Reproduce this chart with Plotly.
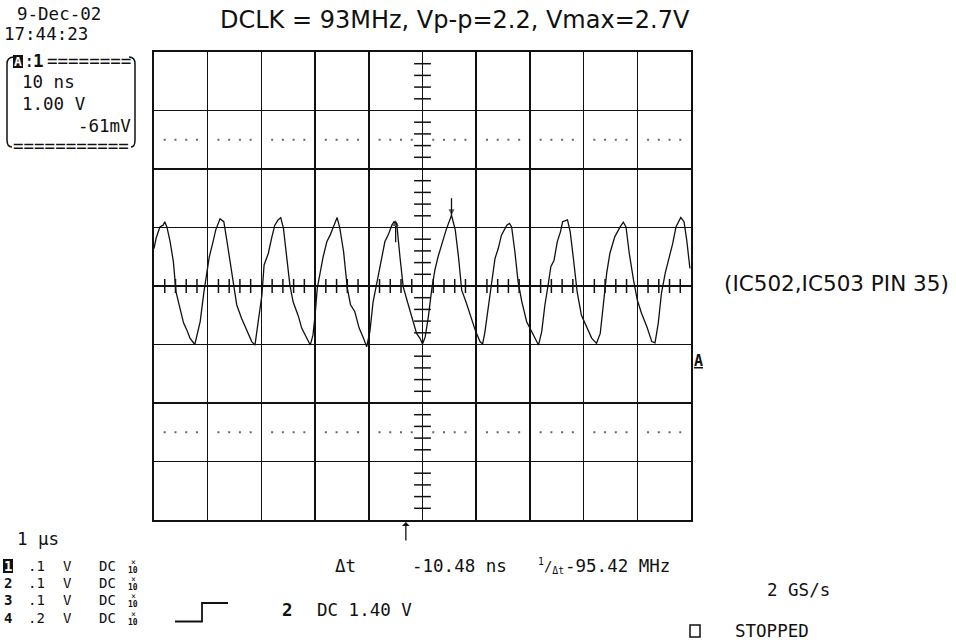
import plotly.graph_objects as go

# ---------------- data (read from the screen capture) ----------------
# time in ns (10 ns/div, centre = 0), voltage in V (1 V/div)
t_ns = [-50.0, -49.6, -48.9, -48.3, -48.0, -47.6, -47.0, -46.4, -45.9, -45.2,
        -44.5, -43.9, -43.3, -42.4, -41.4, -40.7, -40.2, -39.7, -39.0, -38.5,
        -37.7, -37.0, -36.4, -35.5, -34.6, -33.7, -32.6, -31.8, -31.2, -30.6,
        -29.9, -29.5, -28.7, -28.1, -27.5, -26.9, -26.4, -25.9, -25.3, -24.7,
        -24.1, -23.1, -22.5, -21.6, -20.9, -20.4, -20.0, -19.6, -19.1, -18.5,
        -17.8, -17.2, -16.6, -15.9, -15.4, -14.7, -14.0, -13.4, -12.6, -11.8,
        -11.0, -10.4, -9.8, -9.2, -8.4, -7.9, -7.0, -6.4, -5.7, -5.3,
        -4.8, -4.2, -3.6, -2.9, -2.0, -1.1, -0.5, 0.0, 0.5, 1.1,
        1.7, 2.3, 2.9, 3.6, 4.4, 5.4, 6.1, 6.7, 7.3, 8.2,
        8.8, 9.8, 10.7, 11.2, 11.6, 12.3, 12.9, 13.5, 14.1, 14.7,
        15.7, 16.2, 16.6, 17.2, 17.8, 18.5, 19.4, 20.3, 20.9, 21.6,
        22.2, 22.8, 23.4, 23.9, 24.5, 25.1, 25.7, 26.1, 27.0, 27.5,
        28.1, 28.8, 29.6, 30.4, 31.5, 32.4, 33.1, 33.7, 34.3, 34.9,
        35.8, 36.8, 37.4, 37.9, 38.5, 39.3, 40.0, 40.8, 41.8, 42.7,
        43.3, 43.9, 44.5, 45.2, 45.8, 46.6, 47.2, 48.1, 48.7, 49.2, 49.8]
v_volts = [0.64, 0.82, 1.01, 1.04, 1.10, 1.01, 0.76, 0.42, -0.10, -0.38,
           -0.63, -0.75, -0.89, -1.00, -0.61, -0.10, 0.24, 0.50, 0.76, 0.96,
           1.15, 1.10, 0.76, 0.24, -0.32, -0.55, -0.78, -0.95, -1.01, -0.61,
           -0.15, 0.36, 0.56, 0.82, 1.04, 1.13, 1.17, 0.99, 0.53, 0.02,
           -0.27, -0.52, -0.72, -0.89, -1.01, -0.84, -0.50, -0.04, 0.24, 0.50,
           0.76, 0.87, 1.01, 1.17, 0.99, 0.59, -0.04, -0.32, -0.44, -0.72,
           -0.89, -1.04, -0.78, -0.27, 0.10, 0.36, 0.76, 0.87, 1.04, 1.10,
           1.07, 0.50, -0.01, -0.24, -0.52, -0.81, -0.89, -0.99, -0.87, -0.52,
           -0.07, 0.27, 0.50, 0.73, 0.96, 1.21, 0.96, 0.50, -0.07, -0.30,
           -0.47, -0.75, -0.95, -0.99, -0.80, -0.32, 0.07, 0.47, 0.64, 0.87,
           1.04, 1.07, 1.01, 0.59, 0.07, -0.27, -0.61, -0.78, -0.89, -1.01,
           -0.78, -0.32, 0.02, 0.33, 0.44, 0.76, 0.93, 1.10, 1.13, 0.93,
           0.47, -0.10, -0.50, -0.67, -0.89, -0.98, -0.81, -0.30, 0.22, 0.56,
           0.84, 1.01, 1.09, 1.01, 0.56, 0.10, -0.24, -0.47, -0.70, -0.95,
           -0.97, -0.64, -0.12, 0.22, 0.44, 0.73, 1.01, 1.17, 1.10, 0.79, 0.30]

# cursors: (time, head voltage, tail voltage)
cursor1 = (-5.0, 1.13, 0.75)
cursor2 = (5.4, 1.21, 1.50)
# trigger point time (arrow under the graticule)
trigger_t = -3.1

# text
title_text = "DCLK = 93MHz, Vp-p=2.2, Vmax=2.7V"
note_text = "(IC502,IC503 PIN 35)"
date_text = "9-Dec-02"
time_text = "17:44:23"
timebase_text = "10 ns"
vscale_text = "1.00 V"
offset_text = "-61mV"
horiz_text = "1 μs"
ch_numbers = ["1", "2", "3", "4"]
ch_scales = [".1", ".1", ".1", ".2"]
dt_label = "Δt"
dt_value = "-10.48 ns"
freq_value = "-95.42 MHz"
trig_text = "DC 1.40 V"
rate_text = "2 GS/s"
state_text = "STOPPED"

# ---------------- layout helpers ----------------
W, H = 956, 644
PL, PR, PT, PB = 154, 691, 52, 520


def fx(x):
    return (x - PL) / (PR - PL)


def fy(y):
    return (PB - y) / (PB - PT)


MONO = "DejaVu Sans Mono"
SANS = "DejaVu Sans"
INK = "#111111"

fig = go.Figure()

# graticule: centre ticks and dotted rows
minor_t = [i * 2 for i in range(-25, 26) if i % 5 != 0]
minor_v = [i * 0.2 for i in range(-20, 21) if i % 5 != 0]
fig.add_trace(go.Scatter(x=minor_t, y=[0] * len(minor_t), mode="markers",
                         marker=dict(symbol="line-ns", size=10,
                                     line=dict(width=1.5, color=INK)),
                         hoverinfo="skip", showlegend=False))
fig.add_trace(go.Scatter(x=[0] * len(minor_v), y=minor_v, mode="markers",
                         marker=dict(symbol="line-ew", size=12,
                                     line=dict(width=1.5, color=INK)),
                         hoverinfo="skip", showlegend=False))
for lvl in (2.5, -2.5):
    fig.add_trace(go.Scatter(x=minor_t, y=[lvl] * len(minor_t), mode="markers",
                             marker=dict(symbol="square", size=2, color="#666666"),
                             hoverinfo="skip", showlegend=False))

# waveform
fig.add_trace(go.Scatter(x=t_ns, y=v_volts, mode="lines",
                         line=dict(color=INK, width=1.3),
                         hoverinfo="skip", showlegend=False))

# cursors (line + arrow head at the head point)
for (tc, vh, vt), sym in ((cursor1, "arrow-up"), (cursor2, "arrow-down")):
    fig.add_trace(go.Scatter(x=[tc, tc], y=[vt, vh], mode="lines+markers",
                             line=dict(color=INK, width=1.3),
                             marker=dict(symbol=["circle", sym], size=[0, 6],
                                         color=INK, line=dict(width=0)),
                             cliponaxis=False, hoverinfo="skip",
                             showlegend=False))

ann = []
shapes = []

# trigger arrow under the graticule
ann.append(dict(x=trigger_t, y=fy(522), xref="x", yref="paper", ax=0, ay=20,
                showarrow=True, arrowhead=1, arrowsize=1, arrowwidth=1.3,
                arrowcolor=INK, text=""))


def txt(s, x, y, size=17.5, anchor="left", font=MONO, color=INK, bold=False):
    ann.append(dict(text=("<b>%s</b>" % s) if bold else s,
                    x=fx(x), y=fy(y), xref="paper", yref="paper",
                    xanchor=anchor, yanchor="middle", showarrow=False,
                    font=dict(family=font, size=size, color=color)))


def rect(x0, y0, x1, y1, fill=INK, line=0):
    shapes.append(dict(type="rect", xref="paper", yref="paper",
                       x0=fx(x0), x1=fx(x1), y0=fy(y0), y1=fy(y1),
                       fillcolor=fill, line=dict(width=line, color=INK)))


def path(points, width=1.5):
    d = ""
    for cmd, pts in points:
        d += cmd + " " + " ".join("%.5f,%.5f" % (fx(a), fy(b)) for a, b in pts) + " "
    shapes.append(dict(type="path", xref="paper", yref="paper", path=d.strip(),
                       line=dict(color=INK, width=width)))


# title and note
txt(title_text, 218, 20, size=24, font=SANS)
txt(note_text, 722, 283, size=21.5, font=SANS)

# upper-left block
txt(date_text, 15, 14)
txt(time_text, 2, 34)
rect(13, 55, 23, 68)
txt("A", 18, 61.5, size=13, anchor="center", color="white", bold=True)
txt(":", 22, 61)
txt("1", 31, 61, bold=True)
txt("========", 45, 61)
txt(timebase_text, 20, 82)
txt(vscale_text, 20, 104)
txt(offset_text, 133, 126, anchor="right")
txt("===========", 11, 146)
path([("M", [(14, 57)]), ("Q", [(7, 57), (7, 64)]), ("L", [(7, 140)]),
      ("Q", [(7, 147), (12, 147)])])
path([("M", [(129, 57)]), ("Q", [(135, 57), (135, 64)]), ("L", [(135, 140)]),
      ("Q", [(135, 147), (131, 147)])])

# channel reference marker
ann.append(dict(text="<b><u>A</u></b>", x=fx(692), y=fy(361), xref="paper",
                yref="paper", xanchor="left", yanchor="middle", showarrow=False,
                font=dict(family=MONO, size=15, color=INK)))

# bottom block
txt(horiz_text, 15, 539)
rows_y = [566, 583, 600, 618]
ROW = 14
for i, (n, s) in enumerate(zip(ch_numbers, ch_scales)):
    y = rows_y[i]
    if i == 0:
        rect(3, y - 7, 13, y + 7)
        txt(n, 8, y, size=ROW, anchor="center", color="white", bold=True)
    else:
        txt(n, 8, y, size=ROW, anchor="center", bold=True)
    txt(s, 26, y, size=ROW)
    txt("V", 67.5, y, size=ROW, anchor="center")
    txt("DC", 107.5, y, size=ROW, anchor="center")
    txt("×", 133, y - 4, size=8, anchor="center")
    txt("10", 133, y + 4, size=8, anchor="center", bold=True)

# trigger step symbol
path([("M", [(175, 621.5)]), ("L", [(202, 621.5)]), ("L", [(202, 603)]),
      ("L", [(228, 603)])], width=1.8)
txt("2", 287.5, 610, anchor="center", bold=True)
txt(trig_text, 315, 610)

txt(dt_label, 345, 566, anchor="center")
txt(dt_value, 410, 566)
txt("<sup>1</sup>/<sub>Δt</sub>", 551, 566, size=14, anchor="center")
txt(freq_value, 563, 566)
txt(rate_text, 765, 590)
rect(690, 625, 700, 637, fill="rgba(0,0,0,0)", line=1.5)
txt(state_text, 733, 631)

axis_common = dict(showgrid=True, gridcolor=INK, gridwidth=1.5, zeroline=False,
                   showline=True, linecolor=INK, linewidth=2, mirror=True,
                   showticklabels=False, ticks="", fixedrange=True)

fig.update_layout(
    width=W, height=H,
    margin=dict(l=PL, r=W - PR, t=PT, b=H - PB, pad=0),
    paper_bgcolor="white", plot_bgcolor="white",
    xaxis=dict(range=[-50, 50], dtick=10, tick0=0, **axis_common),
    yaxis=dict(range=[-4, 4], dtick=1, tick0=0, **axis_common),
    annotations=ann, shapes=shapes, showlegend=False,
)

fig.write_html("out.html",
               config={"displayModeBar": False, "staticPlot": True},
               post_script="document.body.style.margin='0';"
                           "document.body.style.padding='0';"
                           "document.body.style.overflow='hidden';")
